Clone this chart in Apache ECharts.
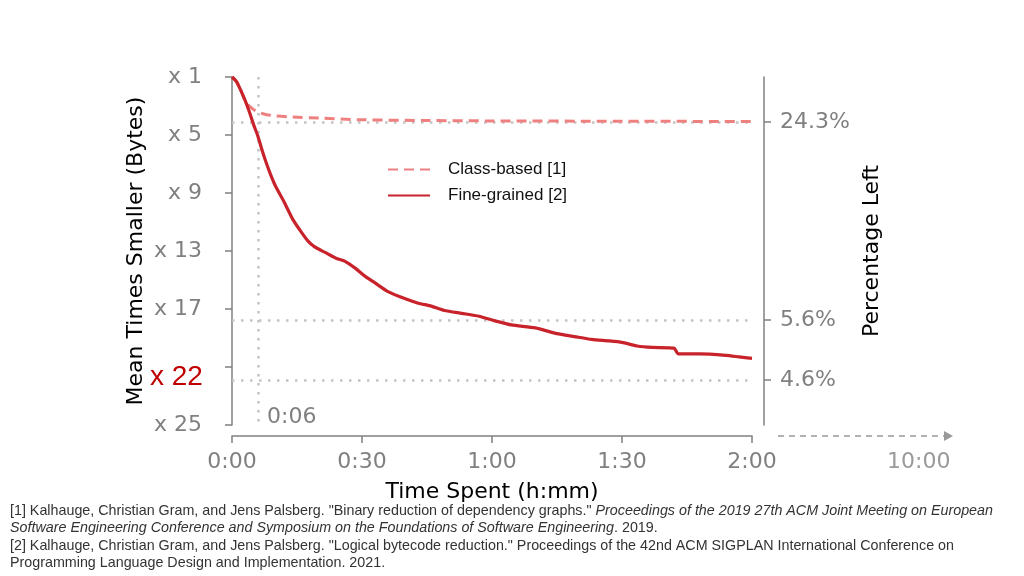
<!DOCTYPE html>
<html>
<head>
<meta charset="utf-8">
<script src="https://cdn.jsdelivr.net/npm/echarts@6/dist/echarts.min.js"></script>
<style>
html,body{margin:0;padding:0;background:#fff;}
#chart{width:1024px;height:576px;}
</style>
</head>
<body>
<div id="chart"></div>
<script>
// ---- data (minutes, "times smaller" factor) ----
var fineTime   = [0, 1, 2, 3, 4, 5, 6, 7, 8, 9, 10, 12, 14, 16, 17.5, 19, 21.5, 24, 26, 28.5, 30.5, 33, 36, 40, 43, 46, 49, 53, 57, 60.5, 64.5, 70, 75, 79, 83, 87, 90, 93.5, 97, 102, 103, 108, 114, 117, 120];
var fineFactor = [1.0, 1.3, 1.9, 2.6, 3.4, 4.3, 5.1, 6.1, 7.0, 7.8, 8.5, 9.6, 10.8, 11.7, 12.3, 12.7, 13.1, 13.5, 13.7, 14.2, 14.7, 15.2, 15.8, 16.3, 16.6, 16.8, 17.1, 17.3, 17.5, 17.8, 18.1, 18.3, 18.7, 18.9, 19.1, 19.2, 19.3, 19.55, 19.65, 19.7, 20.1, 20.1, 20.2, 20.3, 20.4];
var classTime   = [0, 1, 2, 3, 4, 5, 6, 8, 10, 14, 20, 30, 45, 60, 90, 120];
var classFactor = [1.0, 1.3, 1.9, 2.6, 3.0, 3.25, 3.42, 3.6, 3.68, 3.76, 3.83, 3.95, 4.0, 4.03, 4.05, 4.07];

var seriesNames = ['Class-based [1]', 'Fine-grained [2]'];
var xTickValues = [0, 30, 60, 90, 120];
var xTickLabels = ['0:00', '0:30', '1:00', '1:30', '2:00'];
var yTickValues = [1, 5, 9, 13, 17, 21, 25];
var percentLeft = [24.3, 5.63, 4.57];   // shown rounded to one decimal
var markTime = 6;          // 0:06
var highlightFactor = 22;  // "x 22"

function zip(a, b) { return a.map(function (v, i) { return [v, b[i]]; }); }
var percentPos = percentLeft.map(function (p) { return 100 / p; });

var gray = '#808080';
var tickFont = { color: gray, fontSize: 22, fontFamily: 'DejaVu Sans' };

var chart = echarts.init(document.getElementById('chart'), null, { renderer: 'canvas' });

var option = {
  animation: false,
  backgroundColor: '#fff',
  grid: { left: 232, right: 272, top: 77, bottom: 151 },
  legend: {
    data: seriesNames,
    orient: 'vertical',
    left: 382,
    top: 156,
    itemWidth: 42,
    itemHeight: 14,
    itemGap: 9,
    itemStyle: { opacity: 0 },
    textStyle: { fontFamily: 'Liberation Sans', fontSize: 17, color: '#111', padding: [0, 0, 0, 13] }
  },
  xAxis: {
    type: 'value', min: 0, max: 120,
    offset: 11,
    axisLine: { show: true, lineStyle: { color: gray, width: 1.5 } },
    axisTick: { show: true, length: 7, lineStyle: { color: gray, width: 1.5 }, customValues: xTickValues },
    axisLabel: Object.assign({ margin: 15, customValues: xTickValues,
      formatter: function (v) { var i = xTickValues.indexOf(v); return i >= 0 ? xTickLabels[i] : ''; } }, tickFont),
    splitLine: { show: false },
    name: 'Time Spent (h:mm)', nameLocation: 'middle', nameGap: 45,
    nameTextStyle: { color: '#000', fontSize: 22, fontFamily: 'DejaVu Sans' }
  },
  yAxis: [{
    type: 'value', min: 1, max: 25, inverse: true, position: 'left',
    offset: 12,
    axisLine: { show: true, lineStyle: { color: gray, width: 1.5 } },
    axisTick: { show: true, length: 7, lineStyle: { color: gray, width: 1.5 }, customValues: yTickValues },
    axisLabel: Object.assign({ margin: 18, customValues: yTickValues,
      formatter: function (v) { return 'x ' + v; } }, tickFont),
    splitLine: { show: false },
    name: 'Mean Times Smaller (Bytes)', nameLocation: 'middle', nameGap: 73, nameRotate: 90,
    nameMoveOverlap: false,
    nameTextStyle: { color: '#000', fontSize: 22, fontFamily: 'DejaVu Sans' }
  }, {
    type: 'value', min: 1, max: 25, inverse: true, position: 'right',
    offset: 12,
    axisLine: { show: true, lineStyle: { color: gray, width: 1.5 } },
    axisTick: { show: true, length: 7, lineStyle: { color: gray, width: 1.5 }, customValues: percentPos },
    axisLabel: Object.assign({ margin: 16, customValues: percentPos,
      formatter: function (v) {
        for (var i = 0; i < percentPos.length; i++) { if (Math.abs(percentPos[i] - v) < 1e-6) return percentLeft[i].toFixed(1) + '%'; }
        return '';
      } }, tickFont),
    splitLine: { show: false },
    name: 'Percentage Left', nameLocation: 'middle', nameGap: 96, nameRotate: 90,
    nameTextStyle: { color: '#000', fontSize: 22, fontFamily: 'DejaVu Sans' }
  }],
  series: [{
    name: seriesNames[0],
    type: 'line',
    data: zip(classTime, classFactor),
    showSymbol: false, symbol: 'none', smooth: 0.3,
    z: 3,
    lineStyle: { color: '#ef8080', width: 3, type: [10, 6] },
    itemStyle: { color: '#ef8080' },
    markLine: {
      silent: true, symbol: 'none', z: 1,
      label: { show: false },
      lineStyle: { color: '#c4c4c4', width: 2.5, type: [2.5, 6.5] },
      data: [{ xAxis: markTime }].concat(percentPos.map(function (p) { return { yAxis: p }; }))
    }
  }, {
    name: seriesNames[1],
    type: 'line',
    data: zip(fineTime, fineFactor),
    showSymbol: false, symbol: 'none', smooth: 0.2,
    z: 4,
    lineStyle: { color: '#c8222b', width: 3.2 },
    itemStyle: { color: '#c8222b' }
  }]
};
chart.setOption(option);

// overlay annotations positioned through the axes
var p06 = chart.convertToPixel({ xAxisIndex: 0 }, markTime);
var p22 = chart.convertToPixel({ yAxisIndex: 0 }, highlightFactor);
var baseY = chart.convertToPixel({ yAxisIndex: 0 }, 25);
var endX = chart.convertToPixel({ xAxisIndex: 0 }, 120);
var axisY = baseY + 11;

var refs = [
  [{ t: '[1] Kalhauge, Christian Gram, and Jens Palsberg. "Binary reduction of dependency graphs." ', s: 'n' },
   { t: 'Proceedings of the 2019 27th ACM Joint Meeting on European', s: 'i' }],
  [{ t: 'Software Engineering Conference and Symposium on the Foundations of Software Engineering', s: 'i' },
   { t: '. 2019.', s: 'n' }],
  [{ t: '[2] Kalhauge, Christian Gram, and Jens Palsberg. "Logical bytecode reduction." Proceedings of the 42nd ACM SIGPLAN International Conference on', s: 'n' }],
  [{ t: 'Programming Language Design and Implementation. 2021.', s: 'n' }]
];
var refY = [512, 529, 547, 564];
var refGraphics = refs.map(function (parts, i) {
  return {
    type: 'text', left: 10, top: refY[i] - 8,
    style: {
      text: parts.map(function (p) { return '{' + p.s + '|' + p.t + '}'; }).join(''),
      rich: {
        n: { fontFamily: 'Liberation Sans', fontSize: 14.3, fill: '#333' },
        i: { fontFamily: 'Liberation Sans', fontSize: 14.3, fontStyle: 'italic', fill: '#333' }
      }
    }
  };
});

chart.setOption({
  graphic: [
    { type: 'text', left: 150, top: p22 - 25, z: 100,
      style: { text: 'x ' + highlightFactor, fill: '#c00000', fontSize: 28, fontFamily: 'Liberation Sans',
               backgroundColor: '#fff', padding: [7, 2, 2, 0] } },
    { type: 'text', left: p06 + 9, top: baseY - 19,
      style: { text: '0:06', fill: gray, fontSize: 22, fontFamily: 'DejaVu Sans' } },
    { type: 'line', shape: { x1: endX + 26, y1: axisY, x2: 945, y2: axisY },
      style: { stroke: '#999', lineWidth: 1.5, lineDash: [6, 5] } },
    { type: 'polygon', shape: { points: [[944, axisY - 5], [953, axisY], [944, axisY + 5]] },
      style: { fill: '#999' } },
    { type: 'text', left: 887, top: axisY + 15,
      style: { text: '10:00', fill: '#9a9a9a', fontSize: 22, fontFamily: 'DejaVu Sans' } }
  ].concat(refGraphics)
});
</script>
</body>
</html>
